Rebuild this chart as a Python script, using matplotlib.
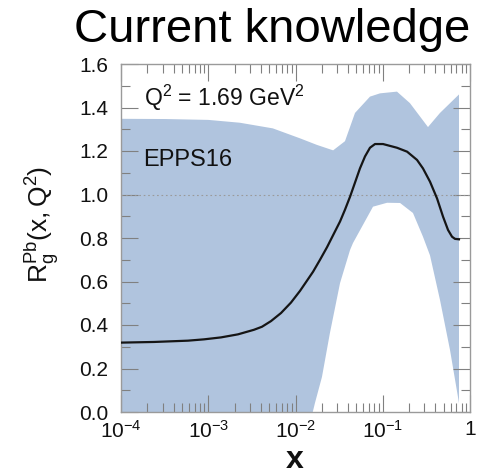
import matplotlib
matplotlib.use('Agg')
import matplotlib.pyplot as plt
import numpy as np
from matplotlib.ticker import LogLocator, MultipleLocator, NullFormatter

plt.rcParams['font.family'] = ['Liberation Sans', 'DejaVu Sans']
plt.rcParams['mathtext.fontset'] = 'custom'
plt.rcParams['mathtext.rm'] = 'Liberation Sans'
plt.rcParams['mathtext.it'] = 'Liberation Sans'
plt.rcParams['mathtext.bf'] = 'Liberation Sans:bold'

# ---- data ----
upper_x = [1.0e-4, 3.2e-4, 1.0e-3, 2.3e-3, 5.5e-3, 1.13e-2, 1.76e-2, 2.7e-2,
           3.69e-2, 4.81e-2, 7.14e-2, 9.29e-2, 0.1455, 0.205, 0.33, 0.453, 0.748]
upper_y = [1.348, 1.347, 1.343, 1.330, 1.304, 1.258, 1.228, 1.203,
           1.245, 1.375, 1.450, 1.465, 1.473, 1.420, 1.310, 1.375, 1.460]

lower_x = [1.0e-4, 1.0e-2, 1.41e-2, 1.67e-2, 2.01e-2, 2.48e-2, 3.24e-2, 4.22e-2,
           4.56e-2, 7.73e-2, 0.112, 0.158, 0.222, 0.289, 0.348, 0.453, 0.59,
           0.728, 0.748]
lower_y = [-0.30, -0.30, -0.08, 0.041, 0.161, 0.363, 0.593, 0.745,
           0.777, 0.944, 0.962, 0.961, 0.915, 0.806, 0.720, 0.515, 0.285,
           0.069, 0.040]

central_x = [1.00e-4, 2.39e-4, 5.86e-4, 8.93e-4, 1.40e-3, 2.19e-3, 3.34e-3,
             4.13e-3, 5.24e-3, 6.82e-3, 8.87e-3, 1.127e-2, 1.355e-2, 1.59e-2,
             1.91e-2, 2.30e-2, 2.69e-2, 3.24e-2, 3.69e-2, 4.22e-2, 4.81e-2,
             5.48e-2, 6.26e-2, 7.14e-2, 8.15e-2, 0.1007, 0.1455, 0.190, 0.247,
             0.289, 0.348, 0.419, 0.491, 0.560, 0.622, 0.673, 0.748]
central_y = [0.319, 0.322, 0.328, 0.334, 0.343, 0.357, 0.378,
             0.392, 0.418, 0.455, 0.503, 0.557, 0.604, 0.645,
             0.700, 0.758, 0.812, 0.876, 0.930, 0.990, 1.055,
             1.120, 1.175, 1.215, 1.232, 1.232, 1.215, 1.197, 1.159,
             1.120, 1.059, 0.982, 0.898, 0.837, 0.806, 0.796, 0.794]

xtick_vals = [1e-4, 1e-3, 1e-2, 1e-1, 1]
xtick_labels = [r'$\mathregular{10^{-4}}$', r'$\mathregular{10^{-3}}$',
                r'$\mathregular{10^{-2}}$', r'$\mathregular{10^{-1}}$', '1']
ytick_vals = [0.0, 0.2, 0.4, 0.6, 0.8, 1.0, 1.2, 1.4, 1.6]
ytick_labels = ['0.0', '0.2', '0.4', '0.6', '0.8', '1.0', '1.2', '1.4', '1.6']

# ---- figure ----
fig = plt.figure(figsize=(4.81, 4.74), dpi=100)
ax = fig.add_axes([121/481, 1-412/474, 349/481, 348/474])
ax.set_xscale('log')
ax.set_xlim(1e-4, 1)
ax.set_ylim(0, 1.6)

poly_x = np.concatenate([upper_x, lower_x[::-1]])
poly_y = np.concatenate([upper_y, lower_y[::-1]])
ax.fill(poly_x, poly_y, color='#b0c4de', lw=0, zorder=1)
ax.axhline(1.0, color='#9a9a9a', ls=(0, (1.5, 2.5)), lw=0.8, zorder=2)
ax.plot(central_x, central_y, color='#151515', lw=1.6, zorder=3,
        solid_joinstyle='round')

ax.set_xticks(xtick_vals)
ax.set_xticklabels(xtick_labels)
ax.xaxis.set_minor_locator(LogLocator(base=10, subs=np.arange(2, 10)))
ax.xaxis.set_minor_formatter(NullFormatter())
ax.set_yticks(ytick_vals)
ax.set_yticklabels(ytick_labels)
ax.yaxis.set_minor_locator(MultipleLocator(0.1))

ax.tick_params(which='both', direction='in', top=True, right=True,
               color='#808080', width=0.8, labelsize=15, labelcolor='#111111')
ax.tick_params(which='major', length=12.5)
ax.tick_params(which='minor', length=6.5)
ax.tick_params(axis='x', which='major', pad=6)
ax.tick_params(axis='y', which='major', pad=9)
for sp in ax.spines.values():
    sp.set_color('#9a9a9a')
    sp.set_linewidth(1.0)

ax.text(0.066, 0.879, r'Q$^{\mathregular{2}}$ = 1.69 GeV$^{\mathregular{2}}$',
        transform=ax.transAxes, fontsize=16.5, ha='left', va='baseline', color='#111111')
ax.text(0.062, 0.707, 'EPPS16', transform=ax.transAxes, fontsize=17,
        ha='left', va='baseline', color='#111111')

fig.text(272/481, 1-42/474, 'Current knowledge', fontsize=34,
         ha='center', va='baseline', color='black')
fig.text(42/481, 1-224/474, r'$\mathregular{R_g^{Pb}(x,Q^2)}$', fontsize=19,
         rotation=90, ha='center', va='center', color='#111111')
fig.text(295/481, 1-468/474, r'$\mathbf{x}$', fontsize=23,
         ha='center', va='baseline', color='#111111')

fig.savefig('out.png', dpi=100)
